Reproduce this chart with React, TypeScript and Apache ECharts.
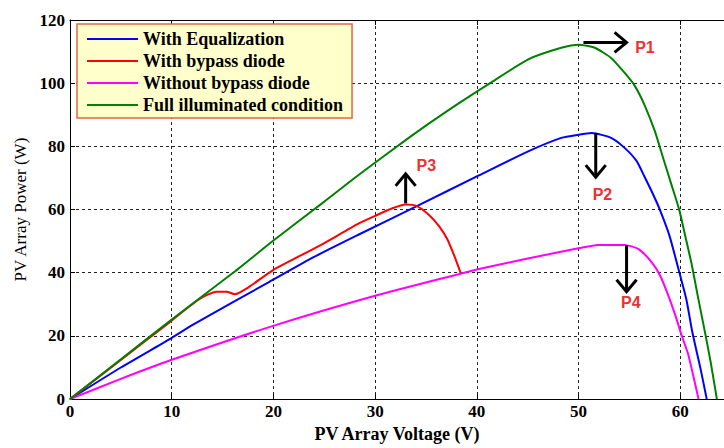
import React, { useEffect, useRef } from "react";
import * as echarts from "echarts";

// ---- data ----
const seriesNames = [
  "With Equalization",
  "With bypass diode",
  "Without bypass diode",
  "Full illuminated condition",
];
const seriesColors = ["#0000FF", "#FF0000", "#FF00FF", "#008000"];

const eqV = [0, 5, 9.8, 12.1, 19.6, 24, 28.4, 34.1, 40.2, 45.1, 48.3, 50, 51.3, 53.2, 54.5, 55.7, 56.5, 57.3, 58, 58.95, 59.9, 60.6, 61.2, 62, 62.6];
const eqP = [0, 10, 19, 23.6, 37.1, 45, 52.1, 61.1, 70.8, 78.5, 82.7, 83.7, 84.2, 82.7, 79.6, 75.4, 70.3, 65, 59.9, 51.6, 40.2, 31.5, 21, 9.5, 0];

const bypassV = [0, 5, 9.3, 12.7, 14.4, 15.4, 16.2, 17.6, 19.9, 24.5, 28.4, 30, 31.7, 33, 34.1, 35.3, 36.3, 37.1, 37.9, 38.4];
const bypassP = [0, 12.4, 23.1, 31.6, 34.0, 34.0, 33.2, 35.5, 40.7, 48.5, 55.6, 58.0, 60.4, 61.6, 61.1, 58.3, 54.7, 50.6, 44.4, 40];

const noBypassV = [0, 5, 9.8, 19.9, 30, 38.4, 40.2, 45, 50.1, 51.9, 54.5, 55.9, 57.2, 58, 58.8, 59.6, 60.1, 60.75, 61.2, 61.8];
const noBypassP = [0, 6.4, 12.2, 23.1, 32.7, 39.7, 41.2, 44.5, 47.8, 48.8, 48.8, 47.5, 43.3, 39.2, 33, 25.7, 20.5, 14.5, 8.5, 0];

const fullV = [0, 5, 10, 16.2, 20, 25, 28.4, 33.3, 37, 41.3, 45.1, 48.3, 50, 51.6, 53.2, 54.5, 55.5, 56.5, 57.5, 58.3, 59.1, 59.9, 60.5, 61.1, 61.7, 62.5, 63, 63.6];
const fullP = [0, 12.6, 25.2, 40.4, 50.2, 62.5, 71, 82.7, 91, 100, 107.6, 111.2, 112.2, 111.2, 108, 103.4, 99.3, 93, 84.8, 76.5, 68.2, 59.9, 51.5, 43, 33, 20, 11.5, 0];

const xMin = 0;
const xMax = 64.3;
const xInterval = 10;
const yMin = 0;
const yMax = 120;
const yInterval = 20;

// annotations: arrows (data coords) and labels
const annLabels = ["P1", "P2", "P3", "P4"];
const arrowStart = [[50.48, 112.9], [51.69, 84.25], [33.0, 61.96], [54.72, 48.7]];
const arrowEnd = [[54.72, 112.9], [51.69, 70.26], [33.0, 71.3], [54.72, 33.98]];
const labelPos = [[56.53, 111.2], [52.35, 64.8], [35.04, 74.1], [55.14, 30.6]];

const pairs = (xs: number[], ys: number[]) => xs.map((x, i) => [x, ys[i]]);

export default function App() {
  const ref = useRef<HTMLDivElement>(null);
  useEffect(() => {
    document.body.style.margin = "0";
    const chart = echarts.init(ref.current!, null, { renderer: "svg" });
    const serif = "'Liberation Serif', 'Times New Roman', serif";
    const tickLabel = { fontFamily: serif, fontWeight: "bold" as const, fontSize: 17, color: "#000" };
    const dataSets = [pairs(eqV, eqP), pairs(bypassV, bypassP), pairs(noBypassV, noBypassP), pairs(fullV, fullP)];
    const option: any = {
      animation: false,
      backgroundColor: "#fff",
      grid: { left: 70, top: 20, right: -2, bottom: 42, containLabel: false },
      legend: {
        orient: "vertical",
        left: 77,
        top: 24,
        padding: [4, 9, 2, 10],
        itemWidth: 51,
        itemHeight: 22,
        itemGap: 0,
        icon: "path://M0,0 M0,10 L51,10 L51,12 L0,12 Z M51,22",
        backgroundColor: "#FFFFCC",
        borderColor: "#E8643E",
        borderWidth: 1.5,
        textStyle: { fontFamily: serif, fontWeight: "bold", fontSize: 18, color: "#000" },
        data: seriesNames,
      },
      xAxis: [
        {
          type: "value",
          min: xMin,
          max: xMax,
          interval: xInterval,
          position: "bottom",
          name: "PV Array Voltage (V)",
          nameLocation: "middle",
          nameGap: 24,
          nameTextStyle: { fontFamily: serif, fontWeight: "bold", fontSize: 18, color: "#000" },
          axisLine: { show: true, onZero: false, lineStyle: { color: "#000", width: 1 } },
          axisTick: { show: true, inside: true, length: 5, lineStyle: { color: "#000" } },
          axisLabel: { ...tickLabel, margin: 4, showMaxLabel: false },
          splitLine: { show: true, lineStyle: { color: "#222", width: 1, type: [3, 3] } },
        },
        {
          type: "value",
          min: xMin,
          max: xMax,
          interval: xInterval,
          position: "top",
          axisLine: { show: true, onZero: false, lineStyle: { color: "#000", width: 1 } },
          axisTick: { show: true, inside: true, length: 5, lineStyle: { color: "#000" } },
          axisLabel: { show: false },
          splitLine: { show: false },
        },
      ],
      yAxis: {
        type: "value",
        min: yMin,
        max: yMax,
        interval: yInterval,
        name: "PV Array Power (W)",
        nameLocation: "middle",
        nameGap: 41,
        nameTextStyle: { fontFamily: serif, fontSize: 17, color: "#000" },
        axisLine: { show: true, onZero: false, lineStyle: { color: "#000", width: 1 } },
        axisTick: { show: true, inside: true, length: 5, lineStyle: { color: "#000" } },
        axisLabel: { ...tickLabel, margin: 5 },
        splitLine: { show: true, lineStyle: { color: "#222", width: 1, type: [3, 3] } },
      },
      series: seriesNames.map((name, i) => ({
        name,
        type: "line",
        xAxisIndex: 0,
        yAxisIndex: 0,
        data: dataSets[i],
        symbol: "none",
        smooth: 0.2,
        lineStyle: { color: seriesColors[i], width: 2 },
        itemStyle: { color: seriesColors[i] },
        z: 2 + i,
      })),
    };
    chart.setOption(option);

    const graphics: any[] = [];
    const headLen = 12;
    const headHalf = 10;
    annLabels.forEach((lab, i) => {
      const p0 = chart.convertToPixel({ xAxisIndex: 0, yAxisIndex: 0 }, arrowStart[i]) as number[];
      const p1 = chart.convertToPixel({ xAxisIndex: 0, yAxisIndex: 0 }, arrowEnd[i]) as number[];
      const pl = chart.convertToPixel({ xAxisIndex: 0, yAxisIndex: 0 }, labelPos[i]) as number[];
      const dx = p1[0] - p0[0];
      const dy = p1[1] - p0[1];
      const len = Math.sqrt(dx * dx + dy * dy) || 1;
      const ux = dx / len;
      const uy = dy / len;
      const nx = -uy;
      const ny = ux;
      const bx = p1[0] - ux * headLen;
      const by = p1[1] - uy * headLen;
      graphics.push({
        type: "line",
        shape: { x1: p0[0], y1: p0[1], x2: p1[0], y2: p1[1] },
        style: { stroke: "#000", lineWidth: 3 },
        z: 100,
      });
      graphics.push({
        type: "polyline",
        shape: {
          points: [
            [bx + nx * headHalf, by + ny * headHalf],
            [p1[0], p1[1]],
            [bx - nx * headHalf, by - ny * headHalf],
          ],
        },
        style: { stroke: "#000", lineWidth: 3, fill: null },
        z: 100,
      });
      graphics.push({
        type: "text",
        x: pl[0],
        y: pl[1],
        style: {
          text: lab,
          fill: "#F03030",
          font: "bold 16px 'Liberation Sans', Arial, sans-serif",
          textAlign: "center",
          textVerticalAlign: "middle",
        },
        z: 100,
      });
    });
    chart.setOption({ graphic: graphics });

    return () => chart.dispose();
  }, []);
  return <div ref={ref} style={{ width: 724, height: 448 }} />;
}
